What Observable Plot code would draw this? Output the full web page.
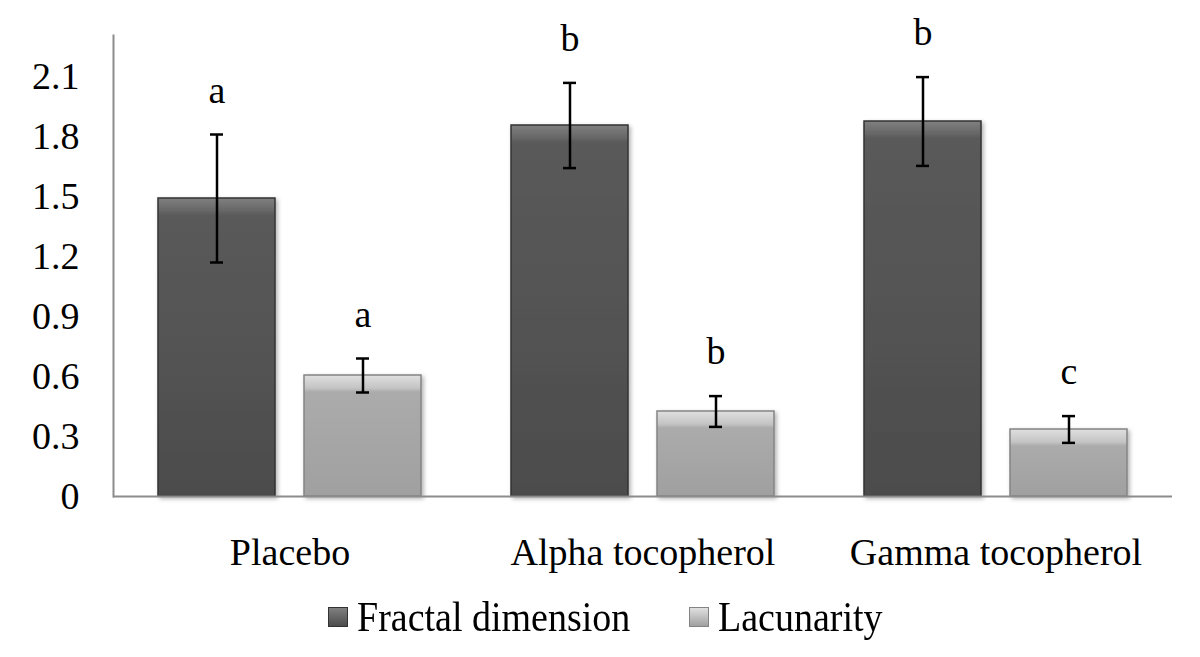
<!DOCTYPE html>
<html>
<head>
<meta charset="utf-8">
<script src="https://cdn.jsdelivr.net/npm/d3@7"></script>
<script src="https://cdn.jsdelivr.net/npm/@observablehq/plot@0.6"></script>
<style>
  html, body { margin: 0; padding: 0; background: #fff; }
  #chart { width: 1200px; }
  .legend { position: relative; width: 1200px; height: 77px; font-family: 'Liberation Serif', 'Times New Roman', serif; font-size: 38px; color: #000; }
  .legend .item { position: absolute; top: 14px; height: 44px; }
  .legend .sw { position: absolute; left: 0; top: 13px; width: 20px; height: 20px; box-sizing: border-box; }
  .legend .lbl { position: absolute; white-space: nowrap; top: 0; line-height: 44px; transform: scale(1, 1.12); transform-origin: 0 50%; }
</style>
</head>
<body>
<div id="chart"></div>
<script>
// ---- data ----
const categories = ["Placebo", "Alpha tocopherol", "Gamma tocopherol"];
const series = ["Fractal dimension", "Lacunarity"];
const fractalMean = [1.49, 1.855, 1.875];
const fractalErr = [0.32, 0.213, 0.222];
const lacunarityMean = [0.605, 0.425, 0.335];
const lacunarityErr = [0.085, 0.077, 0.067];
const fractalLetters = ["a", "b", "b"];
const lacunarityLetters = ["a", "b", "c"];
const yTicks = [0, 0.3, 0.6, 0.9, 1.2, 1.5, 1.8, 2.1];

const rows = categories.flatMap((c, i) => [
  {category: c, series: series[0], value: fractalMean[i], err: fractalErr[i], letter: fractalLetters[i]},
  {category: c, series: series[1], value: lacunarityMean[i], err: lacunarityErr[i], letter: lacunarityLetters[i]}
]);
const fractalRows = rows.filter(d => d.series === series[0]);
const lacunarityRows = rows.filter(d => d.series === series[1]);

const chart = Plot.plot({
  width: 1200,
  height: 580,
  marginLeft: 112,
  marginRight: 28,
  marginTop: 35,
  marginBottom: 84,
  style: {fontFamily: "'Liberation Serif', 'Times New Roman', serif", fontSize: "38px", color: "#000", background: "#fff"},
  fx: {domain: categories, padding: 0, label: null},
  x: {domain: series, paddingInner: 0.197, paddingOuter: 0.3, axis: null},
  y: {domain: [0, 2.305], axis: null},
  marks: [
    Plot.axisY({ticks: yTicks, tickSize: 0, tickPadding: 34, fontSize: 38, tickFormat: d => d === 0 ? "0" : d.toFixed(1), label: null}),
    Plot.axisFx({anchor: "bottom", tickSize: 0, tickPadding: 42, fontSize: 38, label: null}),
    Plot.frame({anchor: "left", facetAnchor: "left", stroke: "#8c8c8c", strokeWidth: 2}),
    Plot.barY(fractalRows, {fx: "category", x: "series", y: "value", fill: "#585858", stroke: "#333", strokeWidth: 1.5, className: "bar-fractal"}),
    Plot.barY(lacunarityRows, {fx: "category", x: "series", y: "value", fill: "#a6a6a6", stroke: "#848484", strokeWidth: 1.5, className: "bar-lacunarity"}),
    Plot.ruleY([0], {stroke: "#8c8c8c", strokeWidth: 2}),
    Plot.ruleX(rows, {fx: "category", x: "series", y1: d => d.value - d.err, y2: d => d.value + d.err, stroke: "#000", strokeWidth: 2.5}),
    Plot.tickY(rows, {fx: "category", x: "series", y: d => d.value + d.err, insetLeft: 52, insetRight: 52, stroke: "#000", strokeWidth: 2.5}),
    Plot.tickY(rows, {fx: "category", x: "series", y: d => d.value - d.err, insetLeft: 52, insetRight: 52, stroke: "#000", strokeWidth: 2.5}),
    Plot.text(rows, {fx: "category", x: "series", y: d => d.value + d.err, text: "letter", dy: -44, fontSize: 38, fill: "#000"})
  ]
});

// bevel styling via per-bar gradients based on each bar's rendered height
const svg = d3.select(chart);
const defs = svg.insert("defs", ":first-child");
const shadow = defs.append("filter").attr("id", "shadow").attr("x", "-10%").attr("y", "-10%").attr("width", "130%").attr("height", "130%");
shadow.append("feDropShadow").attr("dx", 2).attr("dy", 2).attr("stdDeviation", 2).attr("flood-color", "#000").attr("flood-opacity", 0.3);
function bevel(cls, top, mid, body, bottom) {
  svg.selectAll(`.${cls} rect`).each(function(_, i) {
    const r = d3.select(this);
    const h = +r.attr("height");
    const f = Math.min(0.5, 13 / h);
    const id = `${cls}-g${i}`;
    const g = defs.append("linearGradient").attr("id", id).attr("x1", 0).attr("y1", 0).attr("x2", 0).attr("y2", 1);
    g.append("stop").attr("offset", 0).attr("stop-color", top);
    g.append("stop").attr("offset", f).attr("stop-color", mid);
    g.append("stop").attr("offset", f * 1.3).attr("stop-color", body);
    g.append("stop").attr("offset", 1).attr("stop-color", bottom);
    r.attr("fill", `url(#${id})`).attr("filter", "url(#shadow)");
  });
}
bevel("bar-fractal", "#808080", "#666666", "#5a5a5a", "#4c4c4c");
bevel("bar-lacunarity", "#e0e0e0", "#c4c4c4", "#ababab", "#a0a0a0");

document.getElementById("chart").appendChild(chart);

// legend
const legend = d3.select("body").append("div").attr("class", "legend");
const legendItems = [
  {label: series[0], left: 328, bg: "linear-gradient(#808080, #4c4c4c)", border: "#333"},
  {label: series[1], left: 689, bg: "linear-gradient(#e0e0e0, #a0a0a0)", border: "#848484"}
];
legendItems.forEach(it => {
  const item = legend.append("div").attr("class", "item").style("left", it.left + "px");
  item.append("div").attr("class", "sw").style("background", it.bg).style("border", `1px solid ${it.border}`);
  item.append("span").attr("class", "lbl").style("left", "29px").text(it.label);
});
</script>
</body>
</html>
